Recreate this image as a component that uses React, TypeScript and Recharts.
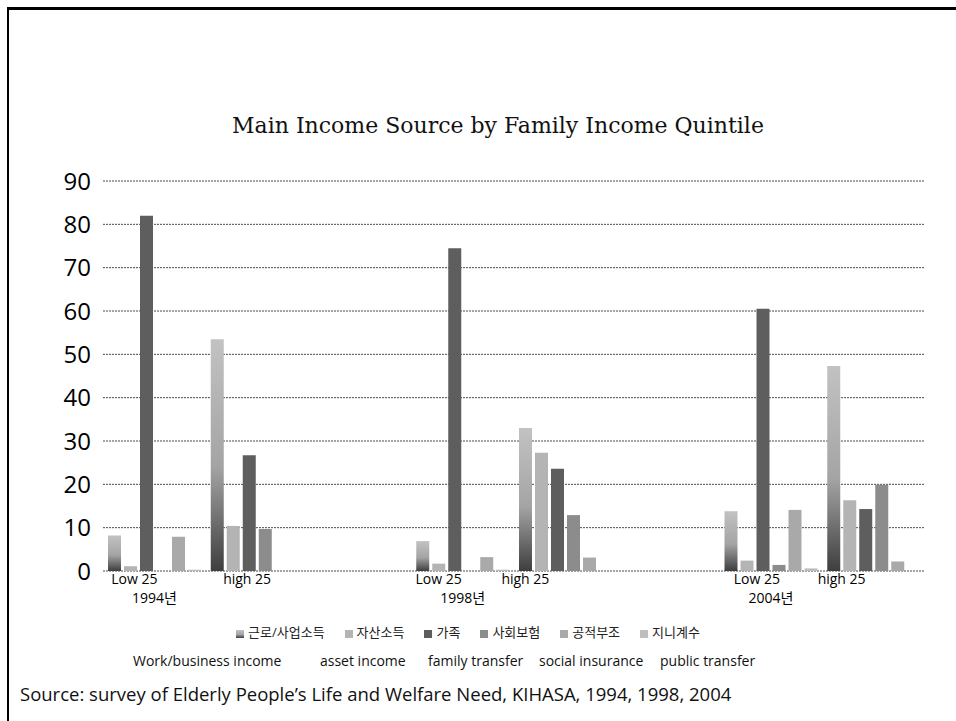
import React from "react";
import { BarChart, Bar, XAxis, YAxis, CartesianGrid, Legend } from "recharts";

// category labels (blank slots separate the survey years)
const quintiles = ["Low 25", "high 25", "", "Low 25", "high 25", "", "Low 25", "high 25"];
const years = ["1994년", "", "", "1998년", "", "", "2004년", ""];

// main income source shares (%)
const work = [8.2, 53.5, null, 6.9, 33, null, 13.8, 47.3];
const asset = [1.1, 10.4, null, 1.7, 27.3, null, 2.4, 16.3];
const family = [82, 26.7, null, 74.5, 23.6, null, 60.5, 14.3];
const socialInsurance = [0, 9.7, null, 0, 12.9, null, 1.4, 19.9];
const publicAssistance = [7.9, 0, null, 3.2, 3.1, null, 14.1, 2.2];
const gini = [0.3, 0, null, 0.3, 0, null, 0.6, 0];

const seriesNames = ["근로/사업소득", "자산소득", "가족", "사회보험", "공적부조", "지니계수"];
const englishNames = ["Work/business income", "asset income", "family transfer", "social insurance", "public transfer"];
const yTicks = [0, 10, 20, 30, 40, 50, 60, 70, 80, 90];

// layout only: the quintile labels sit a little left of their slots
const labelShift = [-20, -10, 0, -24, -40, 0, -14, -32];
const englishX = [133, 320, 428, 539, 660];

const seriesValues = [work, asset, family, socialInsurance, publicAssistance, gini];
const fills = ["url(#workGrad)", "#b4b4b4", "#5e5e5e", "#8c8c8c", "#a9a9a9", "#bdbdbd"];

const data = quintiles.map((q, i) => {
  const row: Record<string, any> = { slot: i };
  seriesNames.forEach((name, s) => {
    row[name] = seriesValues[s][i];
  });
  return row;
});

const sans = "'Open Sans', 'Noto Sans CJK KR', sans-serif";

const QuintileTick = (props: any) => {
  const { x, y, payload } = props;
  const i = Number(payload.value);
  return (
    <g>
      <text x={x + labelShift[i]} y={y + 13} textAnchor="middle" fontSize={14} fill="#000" fontFamily={sans}>
        {quintiles[i]}
      </text>
      {years[i] && (
        <text x={x} y={y + 32} textAnchor="middle" fontSize={14} fill="#000" fontFamily={sans}>
          {years[i]}
        </text>
      )}
    </g>
  );
};

export default function App() {
  return (
    <div style={{ position: "absolute", left: 0, top: 0, width: 956, height: 721, background: "#fff", fontFamily: sans }}>
      <div style={{ position: "absolute", left: 7, top: 7, width: 949, height: 714, borderTop: "3px solid #000", borderLeft: "2px solid #000" }} />
      <div
        style={{
          position: "absolute",
          left: 0,
          width: 996,
          top: 113,
          textAlign: "center",
          fontFamily: "'DejaVu Serif', serif",
          fontSize: 22,
          color: "#111",
        }}
      >
        Main Income Source by Family Income Quintile
      </div>
      <div style={{ position: "absolute", left: 0, top: 0 }}>
        <BarChart
          width={956}
          height={640}
          data={data}
          margin={{ top: 181, right: 31, bottom: 29, left: 0 }}
          barSize={13}
          barGap={3}
        >
          <defs>
            <linearGradient id="workGrad" x1="0" y1="0" x2="0" y2="1">
              <stop offset="0%" stopColor="#c2c2c2" />
              <stop offset="55%" stopColor="#a4a4a4" />
              <stop offset="100%" stopColor="#3e3e3e" />
            </linearGradient>
          </defs>
          <CartesianGrid vertical={false} stroke="#4a4a4a" strokeDasharray="2 1" />
          <XAxis
            dataKey="slot"
            height={40}
            axisLine={false}
            tickLine={false}
            tickSize={0}
            tickMargin={0}
            interval={0}
            tick={<QuintileTick />}
          />
          <YAxis
            width={103}
            domain={[0, 90]}
            ticks={yTicks}
            axisLine={false}
            tickLine={false}
            tickSize={0}
            tickMargin={12}
            tick={{ fontSize: 24, fill: "#000", fontFamily: sans }}
          />
          <Legend
            layout="horizontal"
            verticalAlign="middle"
            align="center"
            iconType="square"
            iconSize={8}
            itemSorter={(item: any) => seriesNames.indexOf(item.value)}
            wrapperStyle={{ position: "absolute", top: 622, left: 0, width: 956, fontSize: 13 }}
            formatter={(value: string) => <span style={{ color: "#222", marginRight: 10 }}>{value}</span>}
          />
          {seriesNames.map((name, s) => (
            <Bar key={name} dataKey={name} fill={fills[s]} isAnimationActive={false} />
          ))}
        </BarChart>
      </div>
      {englishNames.map((t, i) => (
        <div key={t} style={{ position: "absolute", left: englishX[i], top: 651, fontSize: 14, color: "#111", whiteSpace: "nowrap" }}>
          {t}
        </div>
      ))}
      <div style={{ position: "absolute", left: 20, top: 681, fontSize: 18.5, color: "#111", whiteSpace: "nowrap" }}>
        Source: survey of Elderly People’s Life and Welfare Need, KIHASA, 1994, 1998, 2004
      </div>
    </div>
  );
}
